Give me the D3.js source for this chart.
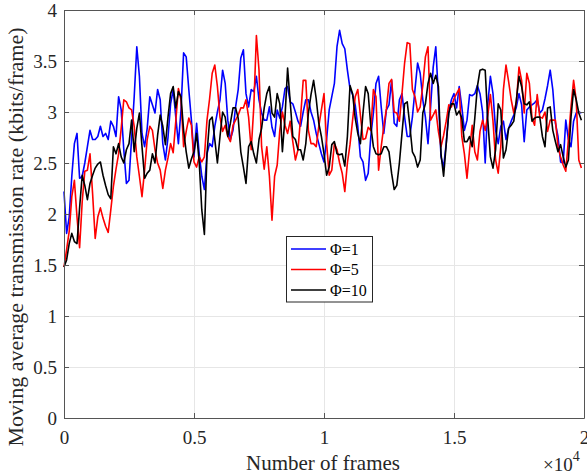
<!DOCTYPE html>
<html>
<head>
<meta charset="utf-8">
<script src="https://cdn.jsdelivr.net/npm/d3@7"></script>
<style>
  body { margin: 0; background: #fff; }
  svg { display: block; font-family: "Liberation Serif", "Times New Roman", serif; }
</style>
</head>
<body>
<svg id="chart" width="587" height="474"></svg>
<script>
var step = 100;
var blue = [2.22, 1.81, 1.97, 2.37, 2.69, 2.79, 2.35, 2.37, 2.5, 2.66,
  2.82, 2.73, 2.73, 2.76, 2.86, 2.76, 2.79, 2.73, 2.91, 2.86,
  2.76, 3.15, 3.02, 2.63, 2.3, 2.33, 2.74, 3.15, 3.64, 3.35,
  2.79, 2.66, 2.84, 3.15, 3.07, 2.99, 3.22, 3.12, 2.69, 2.53,
  2.75, 3.08, 3.22, 2.95, 2.69, 3.02, 3.58, 3.54, 3.22, 2.92,
  2.56, 2.89, 2.59, 2.37, 2.24, 2.59, 2.69, 2.66, 2.86, 3.0,
  3.12, 3.41, 3.28, 2.92, 2.73, 2.82, 3.05, 3.22, 3.53, 3.61,
  3.18, 3.05, 3.22, 3.2, 3.35, 3.12, 2.99, 2.92, 2.92, 3.05,
  2.85, 2.76, 3.02, 2.94, 3.05, 3.23, 3.25, 3.1, 3.08, 3.0,
  2.91, 2.86, 3.0, 3.12, 3.12, 3.0, 2.92, 2.79, 2.69, 2.59,
  2.51, 2.73, 3.02, 3.15, 3.28, 3.64, 3.8, 3.67, 3.62, 3.41,
  3.23, 3.17, 3.07, 2.86, 2.56, 2.51, 2.33, 2.4, 2.76, 2.99,
  3.28, 3.35, 3.05, 2.79, 3.02, 3.07, 3.31, 2.89, 2.86, 3.12,
  3.18, 2.95, 2.76, 2.76, 2.95, 3.22, 3.48, 3.38, 3.12, 2.95,
  2.69, 3.05, 3.44, 3.64, 3.15, 2.56, 2.46, 2.69, 3.0, 3.12,
  3.18, 3.04, 3.25, 3.05, 2.82, 2.92, 3.17, 3.16, 3.18, 3.26,
  3.18, 3.0, 2.5, 3.08, 3.35, 3.18, 2.82, 2.69, 2.86, 2.91,
  2.73, 2.84, 2.91, 2.97, 3.05, 3.18, 3.07, 2.71, 3.02, 3.05,
  3.07, 3.09, 3.12, 2.99, 3.02, 3.13, 3.26, 3.41, 3.22, 2.89,
  2.76, 2.51, 2.5, 2.92, 2.73, 2.66, 2.91, 2.99, 3.0, 2.99];
var red = [1.48, 1.65, 1.83, 2.17, 2.33, 1.97, 1.67, 2.12, 2.42, 2.43,
  2.59, 2.2, 1.76, 1.97, 2.06, 1.96, 1.88, 1.82, 2.04, 2.27,
  2.44, 2.59, 2.84, 3.12, 3.1, 3.04, 3.02, 2.86, 2.56, 2.37,
  2.17, 2.43, 2.73, 2.86, 2.82, 2.63, 2.5, 2.43, 2.25, 2.43,
  2.55, 2.69, 2.6, 2.91, 3.23, 3.12, 2.66, 2.81, 2.94, 2.87,
  2.51, 2.46, 2.56, 2.51, 2.56, 2.92, 3.13, 3.38, 3.46, 3.25,
  2.95, 2.81, 2.87, 2.76, 2.71, 2.87, 2.92, 2.97, 3.04, 3.04,
  3.12, 2.95, 2.63, 3.05, 3.75, 3.41, 2.66, 2.44, 2.66, 2.37,
  1.94, 2.37, 2.48, 2.82, 3.0, 2.87, 2.79, 2.91, 2.71, 2.53,
  2.63, 2.95, 3.31, 3.31, 2.82, 2.69, 2.69, 2.66, 2.86, 3.02,
  3.18, 2.69, 2.38, 2.43, 2.69, 2.63, 2.5, 2.4, 2.22, 2.5,
  2.68, 2.92, 3.15, 3.22, 2.97, 2.73, 2.74, 2.85, 2.82, 3.22,
  3.15, 2.43, 2.66, 2.86, 3.03, 3.28, 3.32, 3.0, 2.99, 2.91,
  3.18, 3.48, 3.68, 3.67, 3.22, 3.15, 3.0, 3.05, 3.26, 3.54,
  3.64, 2.92, 2.97, 3.02, 2.81, 2.66, 2.77, 2.91, 3.07, 3.05,
  3.13, 3.18, 3.23, 2.76, 2.59, 2.35, 2.63, 2.87, 2.61, 2.53,
  2.81, 2.92, 2.82, 2.97, 3.17, 2.91, 2.53, 2.4, 2.66, 3.22,
  3.46, 3.3, 3.12, 2.99, 3.1, 3.44, 3.31, 2.99, 3.38, 3.28,
  2.94, 2.87, 3.17, 2.95, 2.94, 3.0, 2.81, 2.92, 2.92, 2.92,
  2.66, 2.56, 2.48, 2.42, 2.73, 3.05, 3.31, 3.12, 2.53, 2.45];
var black = [1.48, 1.55, 1.71, 1.81, 1.73, 1.71, 2.06, 2.38, 2.28, 2.14,
  2.3, 2.38, 2.45, 2.49, 2.51, 2.38, 2.28, 2.19, 2.15, 2.66,
  2.59, 2.69, 2.56, 2.5, 2.63, 2.69, 2.92, 2.61, 2.84, 2.99,
  2.66, 2.35, 2.4, 2.43, 2.59, 2.5, 2.77, 2.97, 2.86, 2.68,
  2.95, 3.18, 3.25, 3.04, 3.2, 3.15, 2.82, 2.61, 2.45, 2.54,
  2.61, 2.79, 2.51, 2.04, 1.8, 2.59, 2.92, 2.95, 2.73, 2.5,
  2.76, 3.0, 2.95, 2.76, 2.89, 3.04, 3.04, 2.94, 2.61, 2.46,
  2.3, 2.66, 2.71, 2.59, 2.5, 2.73, 2.84, 3.04, 3.18, 3.25,
  2.99, 2.95, 3.18, 3.08, 2.61, 2.95, 3.43, 3.1, 2.76, 2.73,
  2.63, 2.63, 2.53, 2.69, 2.99, 3.17, 3.31, 3.13, 2.89, 2.76,
  2.59, 2.38, 2.46, 2.68, 2.71, 2.59, 2.58, 2.59, 2.47, 2.76,
  3.26, 3.18, 2.94, 2.79, 2.69, 2.99, 3.25, 3.18, 2.86, 2.66,
  2.59, 2.58, 2.59, 2.66, 2.66, 2.61, 2.4, 2.24, 2.28, 2.5,
  2.79, 3.08, 3.1, 2.87, 2.61, 2.56, 2.46, 2.53, 2.99, 3.08,
  3.28, 3.38, 3.28, 3.36, 3.25, 2.59, 2.37, 2.68, 2.99, 3.08,
  3.08, 2.97, 3.01, 2.94, 2.71, 2.71, 2.76, 2.66, 2.94, 3.25,
  3.41, 3.42, 3.41, 2.92, 2.56, 2.45, 2.63, 3.08, 3.02, 2.55,
  2.63, 2.84, 2.87, 2.91, 3.12, 3.35, 3.25, 3.08, 3.07, 3.1,
  2.91, 2.94, 2.95, 2.95, 2.76, 2.66, 3.04, 3.05, 2.82, 2.71,
  2.61, 2.68, 2.56, 2.46, 2.53, 2.95, 3.22, 3.12, 2.99, 2.92];

var xTicks = [0, 5000, 10000, 15000, 20000];
var xTickLabels = ["0", "0.5", "1", "1.5", "2"];
var yTicks = [0, 0.5, 1, 1.5, 2, 2.5, 3, 3.5, 4];
var seriesNames = ["\u03A6=1", "\u03A6=5", "\u03A6=10"];
var seriesColors = ["#0000ff", "#ff0000", "#000000"];

var plotLeft = 64, plotRight = 584, plotTop = 10, plotBottom = 418;
var serif = "Liberation Serif";

var svg = d3.select("#chart");

var x = d3.scaleLinear().domain([0, 20000]).range([plotLeft, plotRight]);
var y = d3.scaleLinear().domain([0, 4]).range([plotBottom, plotTop]);

// grid
svg.append("g")
    .attr("transform", "translate(0," + plotBottom + ")")
    .call(d3.axisBottom(x).tickValues(xTicks).tickSize(-(plotBottom - plotTop)).tickFormat(""))
    .call(g => g.select(".domain").remove())
    .selectAll("line").attr("stroke", "#e6e6e6");
svg.append("g")
    .attr("transform", "translate(" + plotLeft + ",0)")
    .call(d3.axisLeft(y).tickValues(yTicks).tickSize(-(plotRight - plotLeft)).tickFormat(""))
    .call(g => g.select(".domain").remove())
    .selectAll("line").attr("stroke", "#e6e6e6");

// lines
var line = d3.line()
    .x(function(d, i) { return x(i * step); })
    .y(function(d) { return y(d); });

[blue, red, black].forEach(function(s, i) {
    svg.append("path")
        .datum(s)
        .attr("fill", "none")
        .attr("stroke", seriesColors[i])
        .attr("stroke-width", 1.6)
        .attr("stroke-linejoin", "round")
        .attr("d", line);
});

// axes with inward ticks
var axisColor = "#555";
var xAxis = svg.append("g")
    .attr("transform", "translate(0," + plotBottom + ")")
    .call(d3.axisBottom(x).tickValues(xTicks).tickSizeInner(-5).tickSizeOuter(0).tickPadding(13)
        .tickFormat(function(d, i) { return xTickLabels[i]; }));
var yAxis = svg.append("g")
    .attr("transform", "translate(" + plotLeft + ",0)")
    .call(d3.axisLeft(y).tickValues(yTicks).tickSizeInner(-5).tickSizeOuter(0).tickPadding(7)
        .tickFormat(d3.format("")));
var topAxis = svg.append("g")
    .attr("transform", "translate(0," + plotTop + ")")
    .call(d3.axisTop(x).tickValues(xTicks).tickSizeInner(-5).tickSizeOuter(0).tickFormat(""));
var rightAxis = svg.append("g")
    .attr("transform", "translate(" + plotRight + ",0)")
    .call(d3.axisRight(y).tickValues(yTicks).tickSizeInner(-5).tickSizeOuter(0).tickFormat(""));

[xAxis, yAxis, topAxis, rightAxis].forEach(function(a) {
    a.attr("font-family", serif);
    a.selectAll("path, line").attr("stroke", axisColor);
    a.selectAll("text")
        .attr("fill", "#262626")
        .style("font-family", serif)
        .style("font-size", "19px");
});

// axis labels
svg.append("text")
    .attr("x", 323)
    .attr("y", 470)
    .attr("text-anchor", "middle")
    .attr("fill", "#262626")
    .style("font-family", serif)
    .style("font-size", "21px")
    .text("Number of frames");

svg.append("text")
    .attr("transform", "translate(23,237) rotate(-90)")
    .attr("text-anchor", "middle")
    .attr("fill", "#262626")
    .style("font-family", serif)
    .style("font-size", "22px")
    .text("Moving average transmission rate (kbits/frame)");

var expo = svg.append("text")
    .attr("x", 543)
    .attr("y", 471)
    .attr("fill", "#262626")
    .style("font-family", serif)
    .style("font-size", "19px");
expo.append("tspan").text("\u00D710");
expo.append("tspan").attr("dy", -10).style("font-size", "14px").text("4");

// legend
var legend = svg.append("g");
legend.append("rect")
    .attr("x", 286.5).attr("y", 236.5)
    .attr("width", 86).attr("height", 65.5)
    .attr("fill", "#fff")
    .attr("stroke", "#262626");
seriesNames.forEach(function(name, i) {
    var ly = 249 + i * 20.5;
    legend.append("line")
        .attr("x1", 291).attr("x2", 326)
        .attr("y1", ly).attr("y2", ly)
        .attr("stroke", seriesColors[i])
        .attr("stroke-width", 1.6);
    legend.append("text")
        .attr("x", 330).attr("y", ly + 5.5)
        .attr("fill", "#000")
        .style("font-family", serif)
        .style("font-size", "16px")
        .text(name);
});
</script>
</body>
</html>
